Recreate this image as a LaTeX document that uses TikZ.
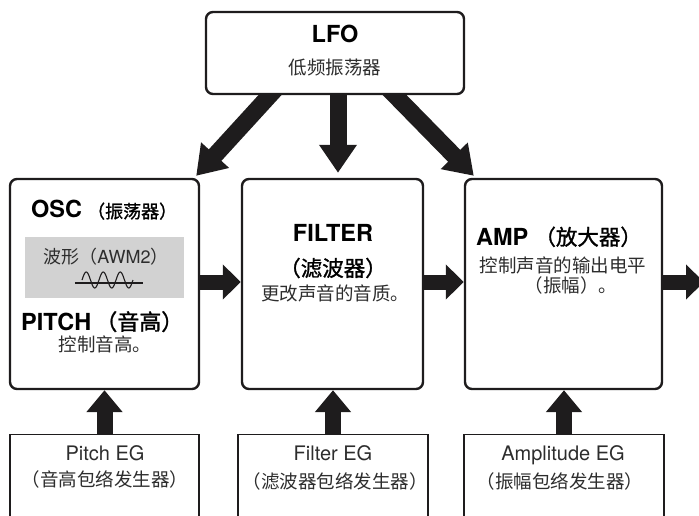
\documentclass[tikz,border=0pt]{standalone}
\usepackage{fontspec}
\setmainfont{TeX Gyre Heros}
\newfontfamily\cjk{Noto Sans CJK SC}
\newfontfamily\cjkmed{Noto Sans CJK SC}[FakeBold=1.3]
\usetikzlibrary{arrows.meta,calc,backgrounds}
\definecolor{ink}{RGB}{30,28,29}
\definecolor{txt}{RGB}{45,45,45}
\definecolor{panel}{RGB}{210,210,210}
\newcommand\fsz[1]{\fontsize{#1}{#1}\selectfont}
\newcommand\zhmed[2]{{\mdseries\cjkmed\fsz{#1}#2}}
\begin{document}
\begin{tikzpicture}[x=1pt,y=-1pt,
  mainbox/.style={draw=ink, line width=2.4pt, rounded corners=7pt, fill=white, inner sep=0pt},
  egbox/.style={draw=ink, line width=1.3pt, fill=white, inner sep=0pt},
  head/.style={font=\fsz{23.5}\bfseries, text=black, inner sep=0pt},
  body/.style={font=\cjk\fsz{18.5}, text=txt, inner sep=0pt},
  zhhead/.style={font=\mdseries\cjkmed\fsz{#1}, text=black, inner sep=0pt},
  eglabel/.style={font=\fsz{20}, text=txt, inner sep=0pt},
  flowh/.style={draw=ink, line width=15pt, -{Triangle[length=18pt,width=34pt]}},
  flowv/.style={draw=ink, line width=16pt, -{Triangle[length=22pt,width=35pt]}},
  flowd/.style={draw=ink, line width=17pt, -{Triangle[length=28pt,width=36pt]}}]
\path[use as bounding box, clip] (0,0) rectangle (699,516);

% blocks
\node[mainbox, minimum width=258pt, minimum height=82pt] (lfo) at (335,53) {};
\node[mainbox, minimum width=189pt, minimum height=210pt] (osc) at (104.5,284) {};
\node[mainbox, minimum width=181pt, minimum height=210pt] (filter) at (332.5,284) {};
\node[mainbox, minimum width=197pt, minimum height=210pt] (amp) at (563.5,284) {};

% envelope generators (open towards the bottom edge)
\node[egbox, minimum width=189pt, minimum height=110pt, anchor=north] (pitcheg) at (104.5,434) {};
\node[egbox, minimum width=190pt, minimum height=110pt, anchor=north] (filtereg) at (333,434) {};
\node[egbox, minimum width=200pt, minimum height=110pt, anchor=north] (ampeg) at (564,434) {};

% LFO modulation arrows, tucked under the LFO block
\begin{scope}[on background layer]
  \draw[flowd] ($(lfo.south)+(-56,-10)$) -- ($(osc.north east)+(-4,-2)$);
  \draw[flowd] ($(lfo.south)+(3,-10)$) -- ($(lfo.south |- filter.north)+(3,-5)$);
  \draw[flowd] ($(lfo.south)+(50,-10)$) -- ($(amp.north west)+(10,-2)$);
\end{scope}

% signal path
\coordinate (out) at (704,282);
\draw[flowh] ($(osc.east)+(0,-2)$) -- ($(filter.west)+(0,-2)$);
\draw[flowh] ($(filter.east)+(0,-2)$) -- ($(amp.west)+(0,-2)$);
\draw[flowh] ($(amp.east)+(0,-2)$) -- (out);

% envelope arrows
\draw[flowv] (pitcheg.north) -- (pitcheg.north |- osc.south);
\draw[flowv] (filtereg.north) -- (filtereg.north |- filter.south);
\draw[flowv] (ampeg.north) -- (ampeg.north |- amp.south);

% LFO text
\node[head, anchor=base] (lfot) at (335,43) {LFO};
\node[body] (lfoz) at (335,68) {低频振荡器};

% OSC / PITCH text
\node[head, anchor=base west] (osct) at (31,218) {OSC\hspace{5pt}\zhmed{18}{（振荡器）}};
\node[fill=panel, minimum width=159pt, minimum height=61pt, inner sep=0pt] (wavebox) at (104.5,267.5) {};
\node[font=\fsz{18}, text=txt, inner sep=0pt, anchor=base] (wavet) at (106,263) {{\cjk 波形（}AWM2{\cjk ）}};
\draw[ink, line width=1.1pt] ($(wavebox.west)+(50,15.5)$) -- ($(wavebox.west)+(118,15.5)$);
\draw[ink, line width=1.1pt] plot[domain=0:3, samples=90] ({82+17*\x}, {280-8*sin(360*\x)});
\node[head, anchor=base west] (pitcht) at (21,330) {PITCH\hspace{4pt}\zhmed{22}{（音高）}};
\node[body] (pitchz) at (105,344) {控制音高。};

% FILTER text
\node[head, anchor=base] (filtert) at (333,241) {FILTER};
\node[zhhead=21.5] (filterz) at (333,268) {（滤波器）};
\node[body] (filterd) at (335,293) {更改声音的音质。};

% AMP text
\node[head, anchor=base west] (ampt) at (476,245) {AMP\hspace{6pt}\zhmed{21.5}{（放大器）}};
\node[body] (ampd1) at (563,265) {控制声音的输出电平};
\node[body] (ampd2) at (571,285) {（振幅）。};

% EG text
\node[eglabel, anchor=base] (pitchegt) at (105,460) {Pitch EG};
\node[body] (pitchegz) at (105,479) {（音高包络发生器）};
\node[eglabel, anchor=base] (filteregt) at (333,460) {Filter EG};
\node[body] (filteregz) at (335,481) {（滤波器包络发生器）};
\node[eglabel, anchor=base] (ampegt) at (563,460) {Amplitude EG};
\node[body] (ampegz) at (560,481) {（振幅包络发生器）};
\end{tikzpicture}
\end{document}
